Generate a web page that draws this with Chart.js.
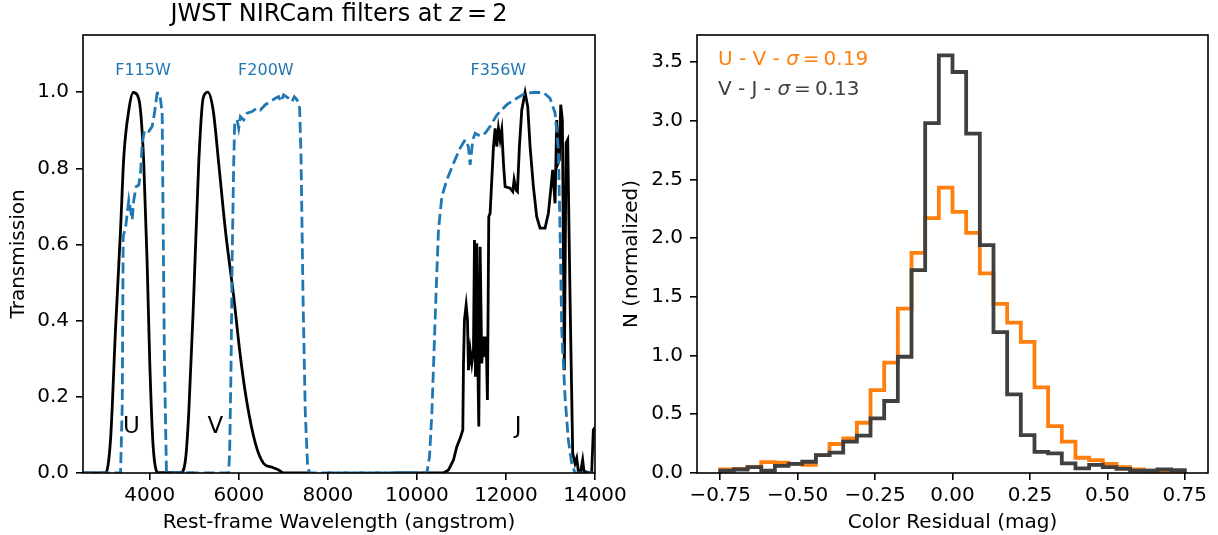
<!DOCTYPE html>
<html>
<head>
<meta charset="utf-8">
<script src="https://cdn.jsdelivr.net/npm/chart.js@4.4.0/dist/chart.umd.min.js"></script>
<style>
  html, body { margin: 0; padding: 0; background: #fff; }
  #wrap { position: relative; width: 1218px; height: 535px; }
  .panel { position: absolute; top: 0; height: 535px; }
  #left { left: 0; width: 640px; }
  #right { left: 610px; width: 608px; }
</style>
</head>
<body>
<div id="wrap">
  <div class="panel" id="left"><canvas id="filterChart"></canvas></div>
  <div class="panel" id="right"><canvas id="residChart"></canvas></div>
</div>
<script>
// ---- left panel: rest-frame filter curves (angstrom, transmission) ----
const uWave = [2500, 3006, 3118, 3230, 3343, 3417, 3529, 3627, 3717, 3791, 3865, 3941, 4000, 4076, 4202, 4700];
const uTrans = [0, 0, 0.087, 0.376, 0.638, 0.831, 0.953, 0.999, 0.993, 0.953, 0.813, 0.551, 0.288, 0.069, 0, 0];

const vWave = [4200, 4689, 4801, 4875, 4987, 5099, 5198, 5301, 5423, 5548, 5698, 5885, 6035, 6185, 6372, 6558, 6746, 6894, 7006, 7600];
const vTrans = [0, 0, 0.034, 0.157, 0.463, 0.813, 0.984, 1.0, 0.953, 0.813, 0.638, 0.463, 0.306, 0.183, 0.078, 0.025, 0.015, 0.008, 0, 0];

const jWave = [9500, 10597, 10709, 10821, 10896, 10971, 11031, 11046, 11068, 11106, 11136, 11158, 11196, 11233, 11270, 11293, 11315, 11345, 11368, 11390,
  11420, 11457, 11495, 11532, 11555, 11584, 11614, 11644, 11682, 11719, 11757, 11794, 11831, 11869, 11906, 11944, 11981, 12093, 12153, 12183,
  12228, 12258, 12302, 12355, 12430, 12489, 12542, 12616, 12691, 12766, 12878, 12953, 13013, 13050, 13103, 13140, 13170, 13200, 13230, 13267,
  13312, 13350, 13387, 13439, 13499, 13551, 13589, 13626, 13678, 13723, 13753, 13925, 13963, 14000];
const jTrans = [0, 0, 0.008, 0.034, 0.069, 0.091, 0.113, 0.288, 0.402, 0.441, 0.402, 0.270, 0.323, 0.288, 0.323, 0.612, 0.253, 0.603, 0.288, 0.122,
  0.594, 0.288, 0.358, 0.305, 0.358, 0.192, 0.673, 0.682, 0.770, 0.857, 0.905, 0.857, 0.905, 0.875, 0.901, 0.813, 0.752, 0.748, 0.739, 0.770,
  0.743, 0.739, 0.857, 0.953, 0.999, 0.962, 0.857, 0.752, 0.673, 0.643, 0.643, 0.682, 0.752, 0.796, 0.708, 0.927, 0.813, 0.822, 0.967, 0.927,
  0.270, 0.866, 0.875, 0.463, 0.052, 0.025, 0.039, 0.004, 0.004, 0.034, 0.004, 0, 0.113, 0.12];

// NIRCam filters divided by (1+z)
const f115Wave = [2500, 3343, 3381, 3403, 3455, 3529, 3567, 3605, 3641, 3695, 3753, 3791, 3829, 3881, 3978, 4054, 4105, 4166, 4224, 4278, 4301, 4330, 4375, 5000];
const f115Trans = [0, 0, 0.174, 0.621, 0.643, 0.717, 0.691, 0.665, 0.717, 0.752, 0.756, 0.787, 0.862, 0.901, 0.897, 0.910, 0.945, 0.997, 0.997, 0.945, 0.638, 0.288, 0, 0];

const f200Wave = [4500, 5773, 5795, 5826, 5849, 5885, 5907, 5961, 5997, 6035, 6109, 6185, 6297, 6410, 6484, 6596, 6708, 6820, 6894, 6948,
  7006, 7119, 7194, 7247, 7307, 7366, 7397, 7442, 7493, 7545, 7590, 10000];
const f200Trans = [0, 0, 0.06, 0.288, 0.551, 0.813, 0.919, 0.927, 0.905, 0.936, 0.927, 0.945, 0.949, 0.958, 0.953, 0.967, 0.975, 0.984, 0.988, 0.975,
  0.993, 0.984, 0.975, 0.988, 0.980, 0.958, 0.831, 0.463, 0.157, 0.017, 0, 0];

const f356Wave = [8000, 10224, 10283, 10336, 10388, 10433, 10484, 10560, 10673, 10821, 10971, 11083, 11157, 11195, 11256, 11308, 11420, 11532, 11644, 11795,
  12019, 12243, 12430, 12616, 12840, 12990, 13103, 13177, 13215, 13253, 13327, 13401, 13477, 13551, 14000];
const f356Trans = [0, 0, 0.043, 0.157, 0.332, 0.481, 0.638, 0.726, 0.770, 0.813, 0.853, 0.875, 0.857, 0.809, 0.875, 0.892, 0.885, 0.892, 0.910, 0.940,
  0.967, 0.984, 0.997, 0.999, 0.999, 0.984, 0.945, 0.849, 0.638, 0.376, 0.200, 0.087, 0.025, 0, 0];

const waveTicks = [4000, 6000, 8000, 10000, 12000, 14000];
const transTicks = [0, 0.2, 0.4, 0.6, 0.8, 1.0];

// ---- right panel: color residual histograms (34 bins over -0.75..0.75) ----
const binStart = -0.75;
const binEnd = 0.75;
const binCount = 34;
const uvHeights = [0.03, 0.035, 0.05, 0.093, 0.088, 0.077, 0.07, 0.153, 0.247, 0.295, 0.428, 0.706, 0.94, 1.40, 1.875, 2.17, 2.43,
  2.224, 2.045, 1.70, 1.44, 1.28, 1.117, 0.73, 0.40, 0.267, 0.13, 0.11, 0.077, 0.05, 0.03, 0.02, 0.01, 0.015];
const vjHeights = [0.02, 0.03, 0.05, 0.02, 0.06, 0.077, 0.096, 0.153, 0.173, 0.267, 0.318, 0.465, 0.613, 0.99, 1.728, 2.98, 3.557,
  3.415, 2.89, 1.94, 1.2, 0.67, 0.323, 0.18, 0.167, 0.082, 0.04, 0.07, 0.05, 0.035, 0.02, 0.02, 0.03, 0.025];
const residTicks = [-0.75, -0.5, -0.25, 0, 0.25, 0.5, 0.75];
const countTicks = [0, 0.5, 1.0, 1.5, 2.0, 2.5, 3.0, 3.5];

const FONT = 'DejaVu Sans';
const BLUE = '#1f77b4';
const ORANGE = '#ff7f0e';
const DARK = '#404040';

Chart.defaults.color = '#000';
Chart.defaults.font.family = FONT;
Chart.defaults.animation = false;

function zip(xs, ys) {
  return xs.map((x, i) => ({ x: x, y: ys[i] }));
}

// step outline like matplotlib histtype='step'
function stepPoints(heights) {
  const width = (binEnd - binStart) / binCount;
  const pts = [{ x: binStart, y: 0 }];
  heights.forEach((h, i) => pts.push({ x: binStart + i * width, y: h }));
  pts.push({ x: binEnd, y: heights[heights.length - 1] });
  pts.push({ x: binEnd, y: 0 });
  return pts;
}

function fixedTicks(values) {
  return scale => { scale.ticks = values.map(v => ({ value: v })); };
}

function noPad(size, isX) {
  return scale => {
    if (isX) scale.height = size; else scale.width = size;
    scale.paddingLeft = 0; scale.paddingRight = 0;
    scale.paddingTop = 0; scale.paddingBottom = 0;
  };
}

const tickGrid = { display: true, drawOnChartArea: false, drawTicks: true, tickLength: 7, color: '#000', lineWidth: 1.6 };

// draw runs of text, some italic (math symbols)
function drawRuns(ctx, runs, x, y, size, color, align) {
  ctx.save();
  ctx.fillStyle = color;
  ctx.textBaseline = 'alphabetic';
  ctx.textAlign = 'left';
  let total = 0;
  runs.forEach(r => {
    ctx.font = (r.italic ? 'italic ' : '') + size + 'px ' + FONT;
    total += ctx.measureText(r.text).width + (r.gap || 0);
  });
  let cx = align === 'center' ? x - total / 2 : x;
  runs.forEach(r => {
    ctx.font = (r.italic ? 'italic ' : '') + size + 'px ' + FONT;
    ctx.fillText(r.text, cx, y);
    cx += ctx.measureText(r.text).width + (r.gap || 0);
  });
  ctx.restore();
}

function frameBox(chart) {
  const a = chart.chartArea;
  const ctx = chart.ctx;
  ctx.save();
  ctx.strokeStyle = '#000';
  ctx.lineWidth = 1.6;
  ctx.strokeRect(a.left, a.top, a.right - a.left, a.bottom - a.top);
  ctx.restore();
}

// ---- left chart ----
const filterLabels = [
  { text: 'F115W', x: 3847, y: 1.055 },
  { text: 'F200W', x: 6607, y: 1.055 },
  { text: 'F356W', x: 11830, y: 1.055 }
];
const bandLabels = [
  { text: 'U', x: 3585, y: 0.12 },
  { text: 'V', x: 5474, y: 0.12 },
  { text: 'J', x: 12276, y: 0.12 }
];

const filterPlugin = {
  id: 'filterDecor',
  afterDraw(chart) {
    const ctx = chart.ctx;
    const xs = chart.scales.x, ys = chart.scales.y;
    frameBox(chart);
    ctx.save();
    ctx.textAlign = 'center';
    ctx.textBaseline = 'middle';
    ctx.fillStyle = BLUE;
    ctx.font = '16px ' + FONT;
    filterLabels.forEach(l => ctx.fillText(l.text, xs.getPixelForValue(l.x), ys.getPixelForValue(l.y)));
    ctx.fillStyle = '#000';
    ctx.font = '23px ' + FONT;
    bandLabels.forEach(l => ctx.fillText(l.text, xs.getPixelForValue(l.x), ys.getPixelForValue(l.y)));
    ctx.restore();
    const a = chart.chartArea;
    drawRuns(ctx, [
      { text: 'JWST NIRCam filters at ' },
      { text: 'z', italic: true, gap: 5 },
      { text: '=', gap: 5 },
      { text: '2' }
    ], (a.left + a.right) / 2, 21, 24, '#000', 'center');
  }
};

function curve(label, xs, ys, color, dashed, order, smooth) {
  return {
    label: label,
    data: zip(xs, ys),
    borderColor: color,
    borderWidth: 2.8,
    borderDash: dashed ? [11, 4.8] : [],
    pointRadius: 0,
    fill: false,
    tension: smooth ? 0.4 : 0,
    cubicInterpolationMode: smooth ? 'monotone' : 'default',
    order: order
  };
}

new Chart(document.getElementById('filterChart'), {
  type: 'line',
  data: {
    datasets: [
      curve('F115W', f115Wave, f115Trans, BLUE, true, 0, false),
      curve('F200W', f200Wave, f200Trans, BLUE, true, 0, false),
      curve('F356W', f356Wave, f356Trans, BLUE, true, 0, false),
      curve('U', uWave, uTrans, '#000', false, 1, true),
      curve('V', vWave, vTrans, '#000', false, 1, true),
      curve('J', jWave, jTrans, '#000', false, 1, false)
    ]
  },
  options: {
    responsive: true,
    maintainAspectRatio: false,
    layout: { padding: { top: 35, right: 45, left: 0, bottom: 0 } },
    plugins: { legend: { display: false }, tooltip: { enabled: false } },
    scales: {
      x: {
        type: 'linear', min: 2500, max: 14000,
        afterBuildTicks: fixedTicks(waveTicks),
        afterFit: noPad(62, true),
        grid: tickGrid,
        border: { display: false },
        ticks: { padding: 4, font: { size: 20 }, callback: v => String(v) },
        title: { display: true, text: 'Rest-frame Wavelength (angstrom)', font: { size: 20 }, padding: { bottom: 0, top: 0 } }
      },
      y: {
        type: 'linear', min: 0, max: 1.15,
        afterBuildTicks: fixedTicks(transTicks),
        afterFit: noPad(83, false),
        grid: tickGrid,
        border: { display: false },
        ticks: { padding: 7, font: { size: 20 }, callback: v => v.toFixed(1) },
        title: { display: true, text: 'Transmission', font: { size: 20 }, padding: { top: 7, bottom: 0 } }
      }
    }
  },
  plugins: [filterPlugin]
});

// ---- right chart ----
const residPlugin = {
  id: 'residDecor',
  afterDraw(chart) {
    const a = chart.chartArea;
    frameBox(chart);
    drawRuns(chart.ctx, [
      { text: 'U - V - ' },
      { text: '\u03c3', italic: true, gap: 4 },
      { text: '=', gap: 4 },
      { text: '0.19' }
    ], a.left + 21, a.top + 30, 20, ORANGE, 'left');
    drawRuns(chart.ctx, [
      { text: 'V - J - ' },
      { text: '\u03c3', italic: true, gap: 4 },
      { text: '=', gap: 4 },
      { text: '0.13' }
    ], a.left + 21, a.top + 60, 20, DARK, 'left');
  }
};

function histSet(label, heights, color, order) {
  return {
    label: label,
    data: stepPoints(heights),
    borderColor: color,
    borderWidth: 3.8,
    stepped: 'before',
    pointRadius: 0,
    fill: false,
    order: order
  };
}

new Chart(document.getElementById('residChart'), {
  type: 'line',
  data: {
    datasets: [
      histSet('U - V', uvHeights, ORANGE, 1),
      histSet('V - J', vjHeights, DARK, 0)
    ]
  },
  options: {
    responsive: true,
    maintainAspectRatio: false,
    layout: { padding: { top: 35, right: 10, left: 0, bottom: 0 } },
    plugins: { legend: { display: false }, tooltip: { enabled: false } },
    scales: {
      x: {
        type: 'linear', min: -0.825, max: 0.825,
        afterBuildTicks: fixedTicks(residTicks),
        afterFit: noPad(62, true),
        grid: tickGrid,
        border: { display: false },
        ticks: { padding: 4, font: { size: 20 }, callback: v => v.toFixed(2).replace('-', '\u2212') },
        title: { display: true, text: 'Color Residual (mag)', font: { size: 20 }, padding: { bottom: 0, top: 0 } }
      },
      y: {
        type: 'linear', min: 0, max: 3.73,
        afterBuildTicks: fixedTicks(countTicks),
        afterFit: noPad(87, false),
        grid: tickGrid,
        border: { display: false },
        ticks: { padding: 7, font: { size: 20 }, callback: v => v.toFixed(1) },
        title: { display: true, text: 'N (normalized)', font: { size: 20 }, padding: { top: 10, bottom: 0 } }
      }
    }
  },
  plugins: [residPlugin]
});
</script>
</body>
</html>
